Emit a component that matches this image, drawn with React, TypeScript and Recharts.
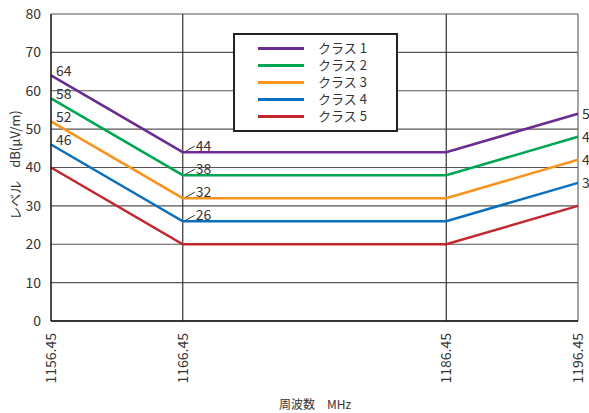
import { CartesianGrid, LabelList, Line, LineChart, ReferenceLine, XAxis, YAxis } from "recharts"

const freqs = [1156.45, 1166.45, 1186.45, 1196.45]
const class1 = [64, 44, 44, 54]
const class2 = [58, 38, 38, 48]
const class3 = [52, 32, 32, 42]
const class4 = [46, 26, 26, 36]
const class5 = [40, 20, 20, 30]
const yTicks = [0, 10, 20, 30, 40, 50, 60, 70, 80]

const seriesNames = ["クラス 1", "クラス 2", "クラス 3", "クラス 4", "クラス 5"]
const colors = ["#6a2c91", "#00a651", "#f7941d", "#0a6fbc", "#c4262e"]
const values = [class1, class2, class3, class4, class5]
// which series carry value labels (class 5 has none)
const labelled = [true, true, true, true, false]

const data = freqs.map((f, i) => ({
  freq: f,
  c1: class1[i],
  c2: class2[i],
  c3: class3[i],
  c4: class4[i],
  c5: class5[i],
}))

const font = "'Noto Sans CJK JP', 'Noto Sans', sans-serif"

function ValueLabel(props: any) {
  const { x, y, value, index } = props
  if (index === 0) {
    return (
      <text x={x + 5} y={y + 1} fontSize={14} fill="#333" fontFamily={font}>
        {value}
      </text>
    )
  }
  if (index === 1) {
    return (
      <g>
        <path d={`M${x + 3},${y - 1} L${x + 12},${y - 6}`} stroke="#333" strokeWidth={1} fill="none" />
        <text x={x + 13} y={y - 1} fontSize={14} fill="#333" fontFamily={font}>
          {value}
        </text>
      </g>
    )
  }
  if (index === 3) {
    return (
      <text x={x + 4} y={y} dy={5} fontSize={14} fill="#333" fontFamily={font}>
        {value}
      </text>
    )
  }
  return null
}

function FreqTick(props: any) {
  const { x, payload } = props
  return (
    <text
      transform={`translate(${x + 5},333) rotate(-90)`}
      textAnchor="end"
      fontSize={14}
      fill="#333"
      fontFamily={font}
    >
      {payload.value.toFixed(2)}
    </text>
  )
}

function LegendBox() {
  return (
    <div
      style={{
        position: "absolute",
        left: 233,
        top: 33,
        width: 161,
        height: 95,
        border: "2px solid #222",
        background: "#fff",
      }}
    >
      {seriesNames.map((n, i) => (
        <div key={n} style={{ position: "absolute", left: 23, top: 6 + i * 17, display: "flex", alignItems: "center" }}>
          <div style={{ width: 46, height: 3, background: colors[i] }} />
          <span style={{ marginLeft: 14, fontSize: 13, color: "#333", fontFamily: font, lineHeight: "14px" }}>{n}</span>
        </div>
      ))}
    </div>
  )
}

export default function App() {
  return (
    <div style={{ position: "absolute", left: 0, top: 0, width: 589, height: 413, background: "#fff", overflow: "hidden" }}>
      <LineChart width={589} height={413} data={data} margin={{ top: 14, right: 11, left: 0, bottom: 0 }}>
        <CartesianGrid vertical={false} stroke="#555" strokeWidth={1.2} />
        <XAxis
          dataKey="freq"
          type="number"
          domain={[1156.45, 1196.45]}
          ticks={freqs}
          height={92}
          tickLine={false}
          axisLine={{ stroke: "#111", strokeWidth: 1.5 }}
          tick={<FreqTick />}
          interval={0}
        />
        <YAxis
          domain={[0, 80]}
          ticks={yTicks}
          width={51}
          tickLine={false}
          axisLine={{ stroke: "#111", strokeWidth: 1.5 }}
          tick={{ fontSize: 14, fill: "#333", fontFamily: font }}
          tickMargin={4}
          interval={0}
        />
        <ReferenceLine x={1166.45} stroke="#333" strokeWidth={1.2} />
        <ReferenceLine x={1186.45} stroke="#333" strokeWidth={1.2} />
        <ReferenceLine x={1196.45} stroke="#666" strokeWidth={1.2} />
        {values.map((_, i) => (
          <Line
            key={i}
            type="linear"
            dataKey={`c${i + 1}`}
            name={seriesNames[i]}
            stroke={colors[i]}
            strokeWidth={2.5}
            dot={false}
            isAnimationActive={false}
          >
            {labelled[i] && <LabelList dataKey={`c${i + 1}`} content={<ValueLabel />} />}
          </Line>
        ))}
        <text
          transform="translate(20,165) rotate(-90)"
          textAnchor="middle"
          fontSize={13}
          fill="#333"
          fontFamily={font}
        >
          レベル　dB(μV/m)
        </text>
        <text x={315} y={409} textAnchor="middle" fontSize={12} fill="#333" fontFamily={font}>
          周波数　MHz
        </text>
      </LineChart>
      <LegendBox />
    </div>
  )
}
